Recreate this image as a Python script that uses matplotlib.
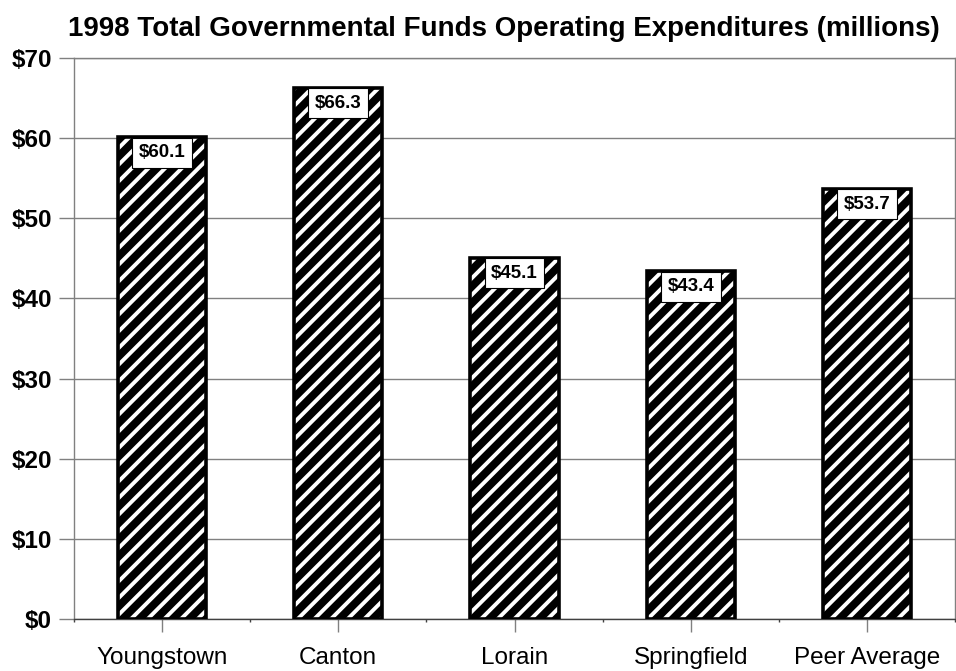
import matplotlib.pyplot as plt
import numpy as np

# 1998 operating expenditures, governmental funds, in millions of dollars
cities = ['Youngstown', 'Canton', 'Lorain', 'Springfield', 'Peer Average']
spending = [60.1, 66.3, 45.1, 43.4, 53.7]
yticks = [0, 10, 20, 30, 40, 50, 60, 70]

plt.rcParams['font.family'] = ['Liberation Sans', 'DejaVu Sans']
plt.rcParams['hatch.linewidth'] = 2.8

fig = plt.figure(figsize=(9.56, 6.71), dpi=100)
ax = fig.add_axes([74/956, 52/671, 881/956, 561/671])

x = np.arange(len(cities))
# black bars with white diagonal stripes, then a heavy black outline on top
ax.bar(x, spending, width=0.5, color='black', edgecolor='white', hatch='//',
       linewidth=0, zorder=3)
ax.bar(x, spending, width=0.5, fill=False, edgecolor='black', linewidth=2.6,
       zorder=4)

for xi, v in zip(x, spending):
    ax.annotate('$%.1f' % v, (xi, v), xytext=(0, -5), textcoords='offset points',
                ha='center', va='top', fontsize=13.5, fontweight='bold', zorder=5,
                bbox=dict(boxstyle='square,pad=0.35', fc='white', ec='black', lw=0.8))

ax.set_xlim(-0.5, len(cities) - 0.5)
ax.set_ylim(0, 70)
ax.set_yticks(yticks)
ax.set_yticklabels(['$%d' % t for t in yticks], fontsize=17.5, fontweight='bold')
ax.set_xticks(x)
ax.set_xticklabels(cities, fontsize=17.5)
ax.set_xticks(np.arange(len(cities) + 1) - 0.5, minor=True)

ax.yaxis.grid(True, color='#808080', linewidth=1, zorder=0)
ax.set_axisbelow(True)
for side in ['left', 'right', 'top']:
    ax.spines[side].set_color('#808080')
    ax.spines[side].set_linewidth(1)
ax.spines['bottom'].set_color('#404040')
ax.spines['bottom'].set_linewidth(1)

ax.tick_params(axis='y', direction='out', length=11, width=1, color='#808080', pad=5)
ax.tick_params(axis='x', which='major', direction='out', length=9.5, width=1,
               color='#808080', pad=11)
ax.tick_params(axis='x', which='minor', direction='out', length=2, width=1,
               color='#404040')

fig.text(504/956, 1 - 29/671, '1998 Total Governmental Funds Operating Expenditures (millions)',
         ha='center', va='center', fontsize=20, fontweight='bold')

fig.savefig('out.png', dpi=100)
